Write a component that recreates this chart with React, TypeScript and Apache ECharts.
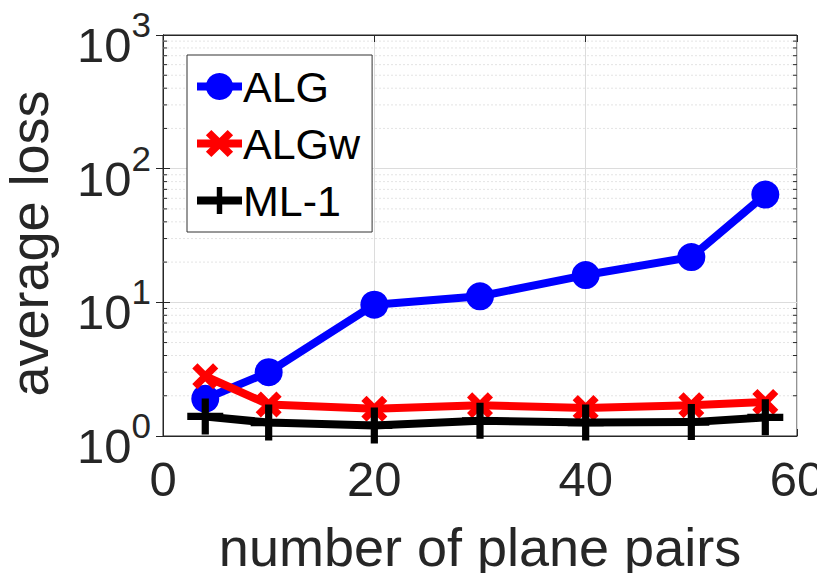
import React, { useEffect, useRef } from "react";
import * as echarts from "echarts";

const xValues = [4, 10, 20, 30, 40, 50, 57];
const algValues = [1.9, 3.0, 9.6, 11.1, 16.0, 21.8, 64];
const algwValues = [2.8, 1.72, 1.6, 1.7, 1.62, 1.7, 1.8];
const ml1Values = [1.4, 1.26, 1.2, 1.3, 1.26, 1.27, 1.38];
const seriesNames = ["ALG", "ALGw", "ML-1"];
const minorTickValues = [
  2, 3, 4, 5, 6, 7, 8, 9,
  20, 30, 40, 50, 60, 70, 80, 90,
  200, 300, 400, 500, 600, 700, 800, 900,
];

const X_SYMBOL =
  "path://M0,4 L4,0 L10,6 L16,0 L20,4 L14,10 L20,16 L16,20 L10,14 L4,20 L0,16 L6,10 Z";
const PLUS_SYMBOL = "path://M8,0 H12 V8 H20 V12 H12 V20 H8 V12 H0 V8 H8 Z";

const FONT = "Liberation Sans, Arial, sans-serif";
const TXT = "#262626";

export default function App() {
  const ref = useRef<HTMLDivElement>(null);
  useEffect(() => {
    if (!ref.current) return;
    const chart = echarts.init(ref.current, undefined, { renderer: "svg" });
    const pair = (vals: number[]) => xValues.map((x, i) => [x, vals[i]]);
    const yFormatter = (v: number) => {
      const e = Math.round(Math.log10(v));
      return `{b|10}{s|${e}}`;
    };
    chart.setOption({
      animation: false,
      backgroundColor: "#fff",
      textStyle: { fontFamily: FONT },
      grid: {
        left: 163,
        top: 35,
        right: 28,
        bottom: 145,
        containLabel: false,
        outerBoundsMode: "none",
        show: true,
        borderColor: TXT,
        borderWidth: 1,
        backgroundColor: "#fff",
      },
      legend: {
        orient: "vertical",
        left: 187,
        top: 55,
        data: seriesNames,
        itemWidth: 45,
        itemHeight: 34,
        itemGap: 14,
        padding: [10, 12, 10, 6],
        borderColor: "#333",
        borderWidth: 1,
        backgroundColor: "#fff",
        lineStyle: { width: 8 },
        textStyle: { fontSize: 43, color: "#000", fontFamily: FONT, lineHeight: 42, padding: [0, 0, 0, -4] },
      },
      xAxis: [
        {
          type: "value",
          min: 0,
          max: 60,
          interval: 20,
          position: "bottom",
          name: "number of plane pairs",
          nameLocation: "middle",
          nameGap: 84,
          nameTextStyle: { fontSize: 54, color: TXT, fontFamily: FONT },
          axisLine: { show: true, lineStyle: { color: TXT, width: 1 } },
          axisTick: { show: true, inside: true, length: 7, lineStyle: { color: TXT } },
          axisLabel: { fontSize: 49, color: TXT, margin: 18, fontFamily: FONT },
          splitLine: { show: true, lineStyle: { color: "#dcdcdc", width: 1 } },
        },
        {
          type: "value",
          min: 0,
          max: 60,
          interval: 20,
          position: "top",
          axisLine: { show: true, lineStyle: { color: TXT, width: 1 } },
          axisTick: { show: true, inside: true, length: 7, lineStyle: { color: TXT } },
          axisLabel: { show: false },
          splitLine: { show: false },
        },
      ],
      yAxis: [
        {
          type: "log",
          logBase: 10,
          min: 1,
          max: 1000,
          position: "left",
          name: "average loss",
          nameLocation: "middle",
          nameGap: 107,
          nameTextStyle: { fontSize: 54, color: TXT, fontFamily: FONT, padding: [0, 16, 0, 0] },
          axisLine: { show: true, lineStyle: { color: TXT, width: 1 } },
          axisTick: { show: true, inside: true, length: 7, lineStyle: { color: TXT } },
          axisLabel: {
            formatter: yFormatter,
            margin: 12,
            color: TXT,
            rich: {
              b: { fontSize: 49, color: TXT, fontFamily: FONT, lineHeight: 56, padding: [20, 0, 0, 0] },
              s: { fontSize: 35, color: TXT, fontFamily: FONT, verticalAlign: "top", lineHeight: 36 },
            },
          },
          splitLine: { show: true, lineStyle: { color: "#dcdcdc", width: 1 } },
        },
        {
          type: "log",
          logBase: 10,
          min: 1,
          max: 1000,
          position: "right",
          axisLine: { show: true, lineStyle: { color: TXT, width: 1 } },
          axisTick: { show: true, inside: true, length: 7, lineStyle: { color: TXT } },
          axisLabel: { show: false },
          splitLine: { show: false },
        },
      ],
      series: [
        {
          type: "custom",
          name: "minor",
          silent: true,
          z: 1,
          xAxisIndex: 0,
          yAxisIndex: 0,
          data: minorTickValues.map((v) => [0, v]),
          renderItem: (params: any, api: any) => {
            const cs = params.coordSys;
            const y = api.coord([0, api.value(1)])[1];
            return {
              type: "group",
              children: [
                {
                  type: "line",
                  shape: { x1: cs.x, y1: y, x2: cs.x + cs.width, y2: y },
                  style: { stroke: "#e4e4e4", lineWidth: 1, lineDash: [2, 2] },
                },
                {
                  type: "line",
                  shape: { x1: cs.x, y1: y, x2: cs.x + 4, y2: y },
                  style: { stroke: TXT, lineWidth: 1 },
                },
                {
                  type: "line",
                  shape: { x1: cs.x + cs.width - 4, y1: y, x2: cs.x + cs.width, y2: y },
                  style: { stroke: TXT, lineWidth: 1 },
                },
              ],
            };
          },
        },
        {
          name: seriesNames[0],
          type: "line",
          z: 3,
          data: pair(algValues),
          symbol: "circle",
          symbolSize: 28,
          lineStyle: { color: "#0000ff", width: 8 },
          itemStyle: { color: "#0000ff" },
        },
        {
          name: seriesNames[1],
          type: "line",
          z: 4,
          data: pair(algwValues),
          symbol: X_SYMBOL,
          symbolSize: 26,
          lineStyle: { color: "#ff0000", width: 8 },
          itemStyle: { color: "#ff0000" },
        },
        {
          name: seriesNames[2],
          type: "line",
          z: 5,
          data: pair(ml1Values),
          symbol: PLUS_SYMBOL,
          symbolSize: 36,
          lineStyle: { color: "#000000", width: 8 },
          itemStyle: { color: "#000000" },
        },
      ],
    });
    return () => chart.dispose();
  }, []);
  return <div ref={ref} style={{ width: 825, height: 581, margin: -8 }} />;
}
